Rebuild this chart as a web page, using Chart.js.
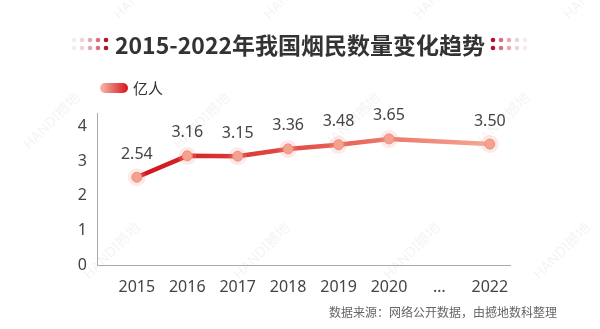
<!DOCTYPE html>
<html>
<head>
<meta charset="utf-8">
<script src="https://cdn.jsdelivr.net/npm/chart.js@4"></script>
<style>
    body { margin: 0; background: #fff; }
    #wrap { width: 600px; height: 329px; }
</style>
</head>
<body>
<div id="wrap"><canvas id="myChart"></canvas></div>
<script>
let years = ['2015', '2016', '2017', '2018', '2019', '2020', '…', '2022'];
let smokers = [2.54, 3.16, 3.15, 3.36, 3.48, 3.65, null, 3.50];
let yTicks = [0, 1, 2, 3, 4];

let titleText = '2015-2022年我国烟民数量变化趋势';
let legendText = '亿人';
let sourceText = '数据来源：网络公开数据，由撼地数科整理';

const FONT = "'Noto Sans', 'Noto Sans CJK SC', sans-serif";
const CJK = "'Noto Sans CJK SC', sans-serif";

let points = years.map((y, i) => ({ x: i, y: smokers[i] }));

// ================================================================== decorations
function drawDots(ctx, x0, step, colors) {
    colors.forEach((c, i) => {
        ctx.fillStyle = c;
        [40, 48].forEach(y => {
            ctx.beginPath();
            ctx.arc(x0 + i * step, y, 2.3, 0, Math.PI * 2);
            ctx.fill();
        });
    });
}

const decor = {
    id: 'decor',
    beforeDraw(chart) {
        let ctx = chart.ctx;
        ctx.save();
        // watermark
        ctx.fillStyle = 'rgba(0, 0, 0, 0.05)';
        ctx.font = '14px ' + FONT;
        for (let gx = -40; gx < 660; gx += 150) {
            for (let gy = 20; gy < 400; gy += 130) {
                ctx.save();
                ctx.translate(gx + (gy / 130) * 60, gy);
                ctx.rotate(-Math.PI / 4);
                ctx.fillText('HANDI撼地', 0, 0);
                ctx.restore();
            }
        }
        ctx.restore();
    },
    afterDraw(chart) {
        let ctx = chart.ctx;
        ctx.save();
        // title
        ctx.fillStyle = '#333';
        ctx.font = 'bold 23px ' + CJK;
        ctx.textAlign = 'center';
        ctx.textBaseline = 'middle';
        ctx.fillText(titleText, 300, 45);
        let colors = ['#f4eced', '#efd3d6', '#e6aab2', '#d9707f', '#b3122b'];
        drawDots(ctx, 74, 8, colors);
        drawDots(ctx, 525, -8, colors);

        // legend pill
        let g = ctx.createLinearGradient(100, 0, 128, 0);
        g.addColorStop(0, '#f8b9ad');
        g.addColorStop(1, '#d6141c');
        ctx.fillStyle = g;
        ctx.beginPath();
        ctx.roundRect(100, 83, 28, 10, 5);
        ctx.fill();
        ctx.fillStyle = '#333';
        ctx.font = '15px ' + CJK;
        ctx.textAlign = 'left';
        ctx.fillText(legendText, 133, 88);

        // value labels
        let meta = chart.getDatasetMeta(1);
        ctx.fillStyle = '#444';
        ctx.font = '16px ' + FONT;
        ctx.textAlign = 'center';
        meta.data.forEach((pt, i) => {
            if (smokers[i] == null) return;
            ctx.fillText(smokers[i].toFixed(2), pt.x, pt.y - 23);
        });

        // source
        ctx.fillStyle = '#666';
        ctx.font = '12px ' + CJK;
        ctx.textAlign = 'right';
        ctx.fillText(sourceText, 557, 312);
        ctx.restore();
    }
};

function lineGradient(context) {
    let area = context.chart.chartArea;
    if (!area) return '#e04040';
    let g = context.chart.ctx.createLinearGradient(area.left + 40, 0, area.right - 20, 0);
    g.addColorStop(0, '#d0121b');
    g.addColorStop(0.5, '#e4554b');
    g.addColorStop(1, '#f5a896');
    return g;
}

// ================================================================== chart
let ctx = document.getElementById('myChart');

new Chart(ctx, {
    type: 'line',
    data: {
        datasets: [{
            data: points,
            showLine: false,
            pointRadius: 9,
            pointBackgroundColor: 'rgba(245, 160, 150, 0.22)',
            pointBorderWidth: 0,
            pointHoverRadius: 9
        }, {
            data: points,
            spanGaps: true,
            borderColor: lineGradient,
            borderWidth: 4.5,
            tension: 0,
            pointRadius: 5,
            pointBackgroundColor: '#f4a28d',
            pointBorderColor: '#ec8a78',
            pointBorderWidth: 1
        }]
    },
    options: {
        responsive: true,
        maintainAspectRatio: false,
        animation: false,
        events: [],
        layout: { padding: { top: 113, right: 90, left: 0, bottom: 0 } },
        plugins: { legend: { display: false }, tooltip: { enabled: false } },
        scales: {
            x: {
                type: 'linear',
                min: -0.79,
                max: 7.4,
                afterBuildTicks: s => { s.ticks = years.map((y, i) => ({ value: i })); },
                afterFit: s => { s.height = 64; },
                grid: { display: false, drawTicks: false },
                border: { display: true, color: '#aaa', width: 1 },
                ticks: {
                    padding: 13,
                    color: '#444',
                    font: { family: FONT, size: 16 },
                    callback: v => years[v]
                }
            },
            y: {
                min: 0,
                max: 4.4,
                afterBuildTicks: s => { s.ticks = yTicks.map(v => ({ value: v })); },
                afterFit: s => { s.width = 97; },
                grid: { display: false, drawTicks: false },
                border: { display: true, color: '#aaa', width: 1 },
                ticks: {
                    padding: 10,
                    color: '#444',
                    font: { family: FONT, size: 16 }
                }
            }
        }
    },
    plugins: [decor]
});
</script>
</body>
</html>
